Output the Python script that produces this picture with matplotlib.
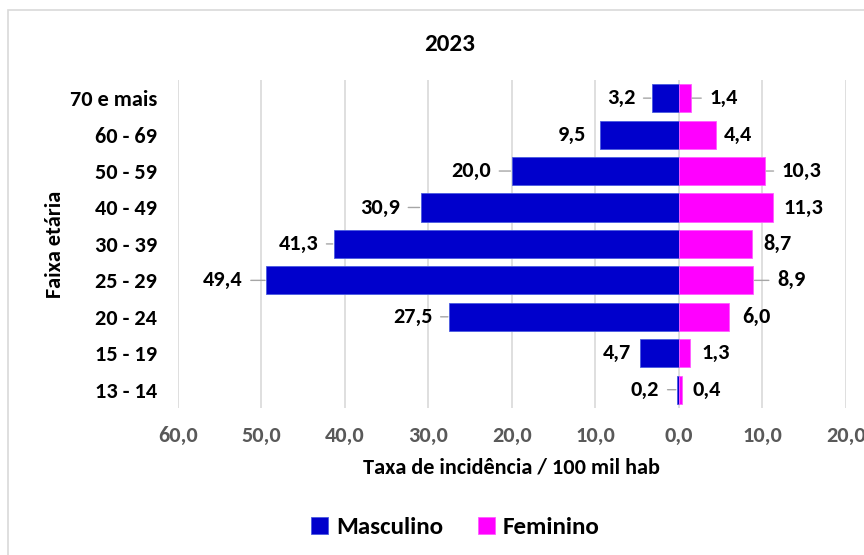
import matplotlib.pyplot as plt
from matplotlib.patches import Rectangle
import numpy as np

# Dados
faixas = ['70 e mais', '60 - 69', '50 - 59', '40 - 49', '30 - 39',
          '25 - 29', '20 - 24', '15 - 19', '13 - 14']
masculino = [3.2, 9.5, 20.0, 30.9, 41.3, 49.4, 27.5, 4.7, 0.2]
feminino = [1.4, 4.4, 10.3, 11.3, 8.7, 8.9, 6.0, 1.3, 0.4]
ticks = [-60, -50, -40, -30, -20, -10, 0, 10, 20]

# posicao dos rotulos (distancia em px da ponta da barra) e se tem linha guia
gap_m = [17, 13, 21, 21, 16, 24, 17, 9, 18]
linha_m = [True, False, True, True, True, True, True, False, True]
gap_f = [19, 8, 17, 10, 12, 24, 13, 12, 10]
linha_f = [True, False, True, False, False, True, False, False, False]

# Carlito = metrica do Calibri
plt.rcParams['font.family'] = ['Carlito', 'DejaVu Sans']
plt.rcParams['font.weight'] = 'bold'

fig = plt.figure(figsize=(8.64, 5.55), dpi=100)
ax = fig.add_axes([0.206, 0.265, 0.773, 0.591])

# borda do grafico
fig.patches.append(Rectangle((8 / 864, -0.1), 1.2, 1.1 - 10 / 555,
                             transform=fig.transFigure, fill=False,
                             edgecolor='#d9d9d9', linewidth=1.2))

y = np.arange(len(faixas))
azul = '#0000CC'
rosa = '#FF00FF'
ax.barh(y, [-v for v in masculino], height=0.77, color=azul,
        edgecolor='#4a5be0', linewidth=0.6, label='Masculino', zorder=3)
ax.barh(y, feminino, height=0.77, color=rosa,
        edgecolor='#ff5cff', linewidth=0.6, label='Feminino', zorder=3)

fs = 16
for i in range(len(faixas)):
    txt = f'{masculino[i]:.1f}'.replace('.', ',')
    ap = dict(arrowstyle='-', color='#a6a6a6', lw=1, shrinkA=4, shrinkB=1) if linha_m[i] else None
    ax.annotate(txt, xy=(-masculino[i], i), xytext=(-gap_m[i] * 0.72, 0),
                textcoords='offset points', ha='right', va='center',
                fontsize=fs, fontweight='bold', arrowprops=ap)
    txt = f'{feminino[i]:.1f}'.replace('.', ',')
    ap = dict(arrowstyle='-', color='#a6a6a6', lw=1, shrinkA=4, shrinkB=1) if linha_f[i] else None
    ax.annotate(txt, xy=(feminino[i], i), xytext=(gap_f[i] * 0.72, 0),
                textcoords='offset points', ha='left', va='center',
                fontsize=fs, fontweight='bold', arrowprops=ap)

ax.set_xlim(-60, 20)
ax.set_ylim(len(faixas) - 0.5, -0.5)
ax.set_yticks(y)
ax.set_yticklabels(faixas, fontsize=16, fontweight='bold')
ax.set_xticks(ticks)
ax.set_xticklabels([f'{abs(t):.1f}'.replace('.', ',') for t in ticks],
                   fontsize=16, fontweight='bold', color='#595959')
ax.tick_params(axis='both', length=0)
ax.tick_params(axis='x', pad=13)
ax.tick_params(axis='y', pad=15)
ax.grid(axis='x', color='#d9d9d9', linewidth=1.2, zorder=0)
for s in ax.spines.values():
    s.set_visible(False)

ax.set_xlabel('Taxa de incidência / 100 mil hab', fontsize=16, fontweight='bold', labelpad=8)
ax.set_ylabel('Faixa etária', fontsize=16, fontweight='bold', va='center')
ax.yaxis.set_label_coords(-0.184, 0.5)
fig.text(0.52, 0.92, '2023', ha='center', va='center', fontsize=18, fontweight='bold')

fig.legend(loc='center', bbox_to_anchor=(0.527, 0.05), ncol=2, frameon=False,
           fontsize=18, handlelength=0.7, handleheight=0.7, handletextpad=0.3,
           columnspacing=1.4)

fig.savefig('out.png', dpi=100)
